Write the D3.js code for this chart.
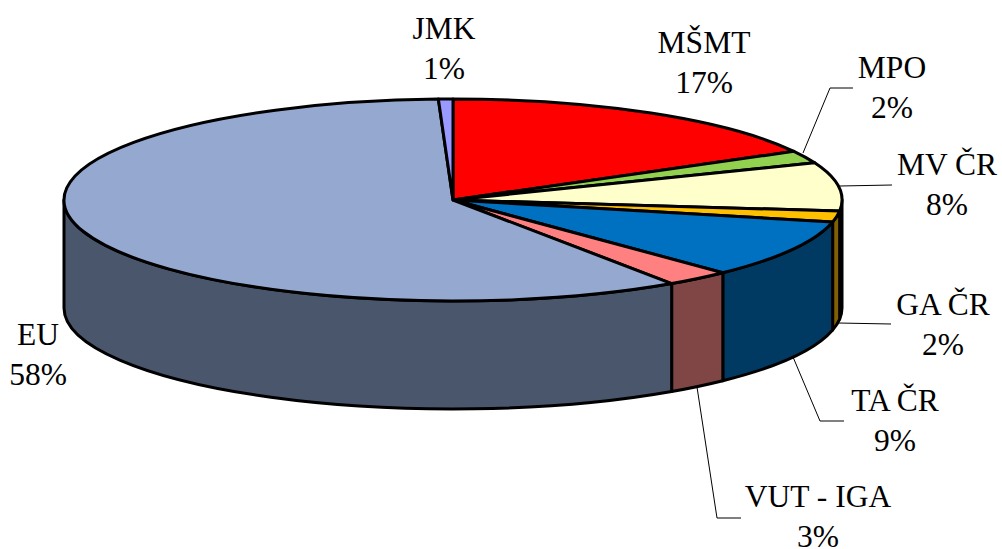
<!DOCTYPE html>
<html>
<head>
<meta charset="utf-8">
<script src="https://cdn.jsdelivr.net/npm/d3@7"></script>
<style>
  html, body { margin: 0; padding: 0; background: #fff; }
  svg { display: block; }
  text { font-family: "Liberation Serif", serif; font-size: 31.5px; fill: #000; }
</style>
</head>
<body>
<svg id="pie"></svg>
<script>
// Share of each funding source
var names = ["MŠMT", "MPO", "MV ČR", "GA ČR", "TA ČR", "VUT - IGA", "EU", "JMK"];
var values = [17, 2, 7.75, 1.75, 9.3, 2.7, 58.9, 0.6];
var percentLabels = ["17%", "2%", "8%", "2%", "9%", "3%", "58%", "1%"];
var topColors = ["#ff0000", "#92d050", "#ffffcc", "#ffc000", "#0070c0", "#ff8080", "#95a9d0", "#9999ff"];
var sideColors = ["#800000", "#4a6828", "#808066", "#806000", "#003a63", "#804545", "#4a566c", "#4d4d80"];

var width = 1002, height = 549;
var cx = 453, cy = 200, rx = 389, ry = 101, depth = 108;

var svg = d3.select("#pie").attr("width", width).attr("height", height);

var pie = d3.pie().value(function (d) { return d; }).sort(null);
var slices = pie(values);

// d3.pie angles run clockwise from 12 o'clock, flatten the circle to an ellipse
function px(a) { return cx + rx * Math.sin(a); }
function py(a) { return cy - ry * Math.cos(a); }

function arcTo(a0, a1, dy, sweep) {
  var large = Math.abs(a1 - a0) > Math.PI ? 1 : 0;
  return "A" + rx + "," + ry + " 0 " + large + " " + sweep + " " + px(a1) + "," + (py(a1) + dy);
}

function topPath(d) {
  return "M" + cx + "," + cy +
    "L" + px(d.startAngle) + "," + py(d.startAngle) +
    arcTo(d.startAngle, d.endAngle, 0, 1) + "Z";
}

function sidePath(d) {
  // only the front half of the rim can be seen
  var a0 = Math.max(d.startAngle, Math.PI / 2);
  var a1 = Math.min(d.endAngle, 3 * Math.PI / 2);
  if (a1 <= a0) return null;
  return "M" + px(a0) + "," + py(a0) +
    arcTo(a0, a1, 0, 1) +
    "L" + px(a1) + "," + (py(a1) + depth) +
    arcTo(a1, a0, depth, 0) + "Z";
}

svg.append("g").selectAll("path")
  .data(slices.filter(function (d) { return sidePath(d) !== null; }))
  .enter().append("path")
  .attr("d", sidePath)
  .attr("fill", function (d) { return sideColors[d.index]; })
  .attr("stroke", "#000")
  .attr("stroke-width", 3)
  .attr("stroke-linejoin", "round");

svg.append("g").selectAll("path")
  .data(slices)
  .enter().append("path")
  .attr("d", topPath)
  .attr("fill", function (d) { return topColors[d.index]; })
  .attr("stroke", "#000")
  .attr("stroke-width", 3)
  .attr("stroke-linejoin", "round");

// Leader lines, one entry per label that has one
var leaders = [
  [[803, 153], [830, 88], [853, 88]],
  [[840, 186], [892, 185]],
  [[838, 323], [891, 324]],
  [[793, 357], [820, 421], [844, 421]],
  [[697, 387], [717, 518], [741, 518]]
];
svg.append("g").selectAll("path")
  .data(leaders)
  .enter().append("path")
  .attr("d", function (d) { return d3.line()(d); })
  .attr("fill", "none")
  .attr("stroke", "#000")
  .attr("stroke-width", 1);

// Label centres, first line baseline
var labelPos = [[704, 53], [892, 78], [947, 175], [943, 315], [895, 411], [818, 507], [38, 345], [444, 39]];
var labels = svg.append("g").selectAll("text")
  .data(names)
  .enter().append("text")
  .attr("text-anchor", "middle")
  .attr("x", function (d, i) { return labelPos[i][0]; })
  .attr("y", function (d, i) { return labelPos[i][1]; });
labels.append("tspan").text(function (d) { return d; });
labels.append("tspan")
  .attr("x", function (d, i) { return labelPos[i][0]; })
  .attr("dy", 40)
  .text(function (d, i) { return percentLabels[i]; });
</script>
</body>
</html>
